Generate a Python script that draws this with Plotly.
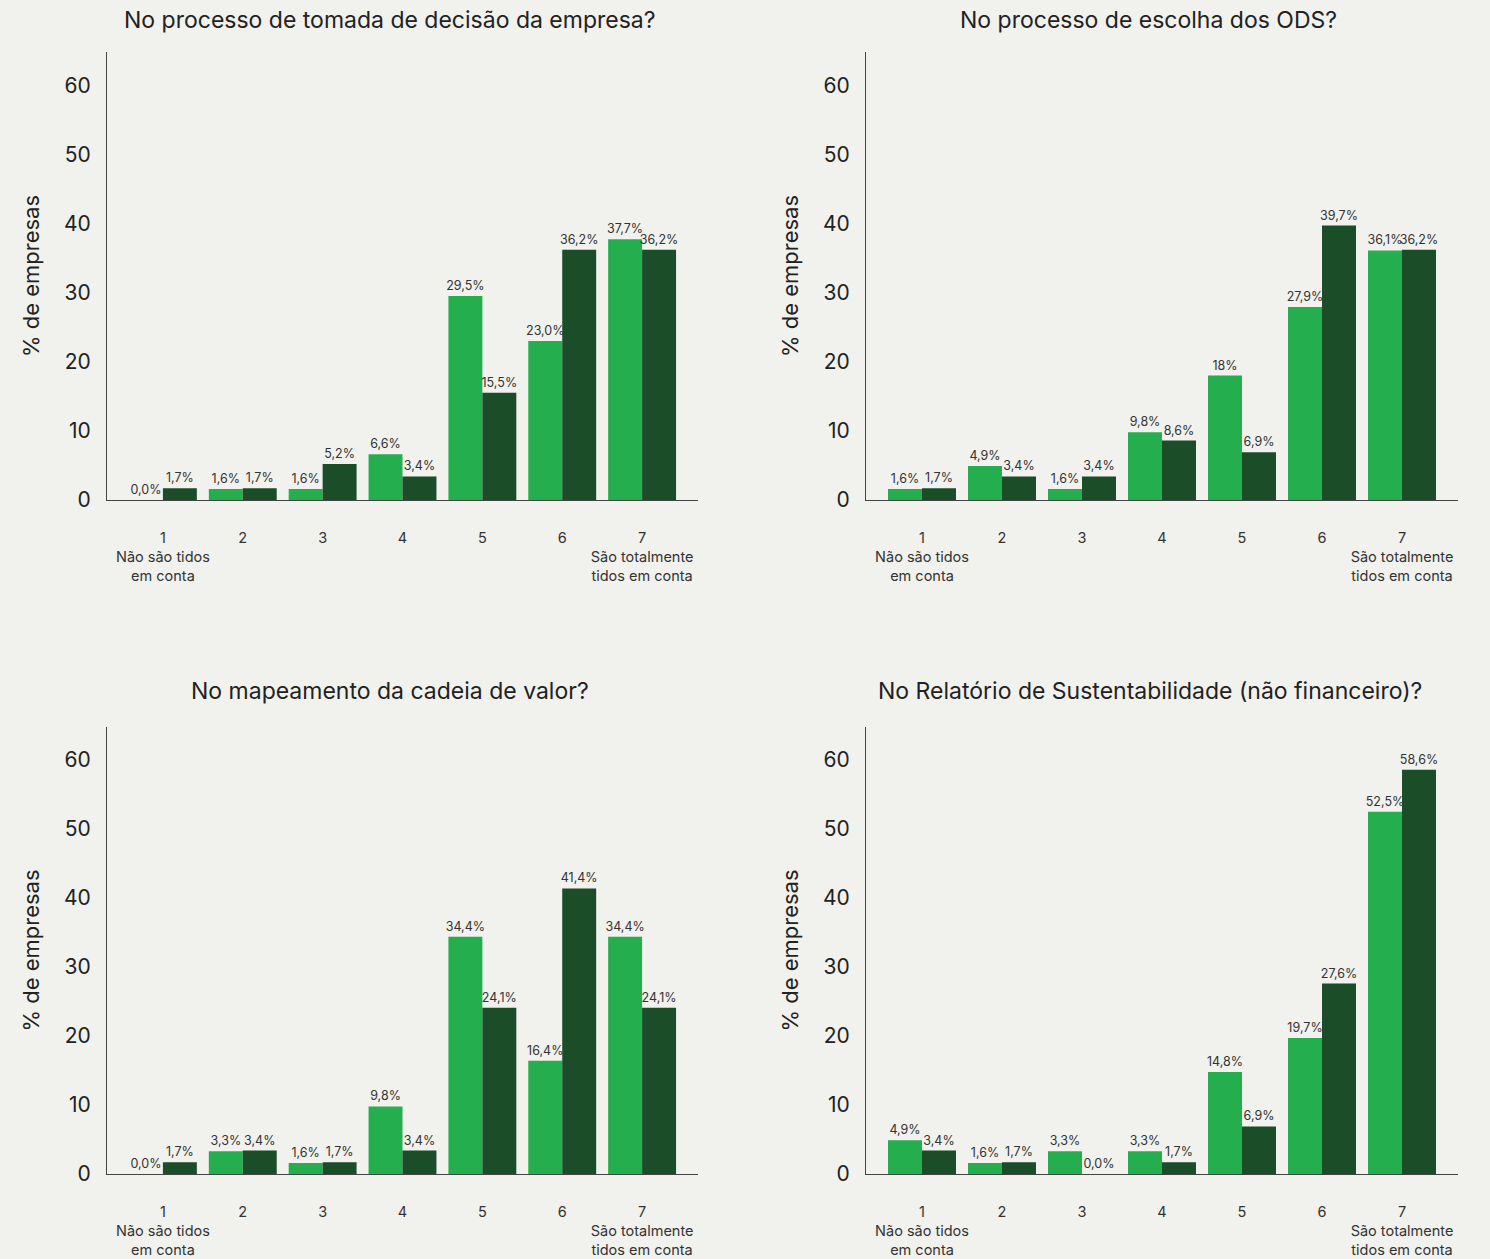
import plotly.graph_objects as go
from plotly.subplots import make_subplots

categorias = [1, 2, 3, 4, 5, 6, 7]
tick_textos = ["1<br>Não são tidos<br>em conta", "2", "3", "4", "5", "6",
               "7<br>São totalmente<br>tidos em conta"]

titulos = [
    "No processo de tomada de decisão da empresa?",
    "No processo de escolha dos ODS?",
    "No mapeamento da cadeia de valor?",
    "No Relatório de Sustentabilidade (não financeiro)?",
]

# claro / escuro por painel
decisao_claro = [0.0, 1.6, 1.6, 6.6, 29.5, 23.0, 37.7]
decisao_escuro = [1.7, 1.7, 5.2, 3.4, 15.5, 36.2, 36.2]
ods_claro = [1.6, 4.9, 1.6, 9.8, 18, 27.9, 36.1]
ods_escuro = [1.7, 3.4, 3.4, 8.6, 6.9, 39.7, 36.2]
cadeia_claro = [0.0, 3.3, 1.6, 9.8, 34.4, 16.4, 34.4]
cadeia_escuro = [1.7, 3.4, 1.7, 3.4, 24.1, 41.4, 24.1]
relatorio_claro = [4.9, 1.6, 3.3, 3.3, 14.8, 19.7, 52.5]
relatorio_escuro = [3.4, 1.7, 0.0, 1.7, 6.9, 27.6, 58.6]

paineis = [
    (decisao_claro, decisao_escuro),
    (ods_claro, ods_escuro),
    (cadeia_claro, cadeia_escuro),
    (relatorio_claro, relatorio_escuro),
]

VERDE_CLARO = "#25AE4D"
VERDE_ESCURO = "#1B4D29"
FUNDO = "#F1F1ED"
FONTE = "Inter, 'Open Sans', sans-serif"


def rotulo(v):
    if v == 18:
        return "18%"
    return f"{v:.1f}".replace(".", ",") + "%"


fig = make_subplots(rows=2, cols=2)

for i, (claro, escuro) in enumerate(paineis):
    r, c = i // 2 + 1, i % 2 + 1
    for vals, cor in [(claro, VERDE_CLARO), (escuro, VERDE_ESCURO)]:
        fig.add_trace(go.Bar(
            x=categorias, y=vals, marker_color=cor, marker_line_width=0,
            text=[rotulo(v) for v in vals], textposition="outside",
            textangle=0, cliponaxis=False, constraintext="none",
            textfont=dict(size=12.5, color="#333333", family=FONTE),
            showlegend=False,
        ), row=r, col=c)

x_dom = [[107 / 1490, 698 / 1490], [866 / 1490, 1458 / 1490]]
y_dom = [[1 - 500 / 1259, 1 - 52 / 1259], [1 - 1174 / 1259, 1 - 727 / 1259]]

for i in range(4):
    lin, col = i // 2, i % 2
    sfx = "" if i == 0 else str(i + 1)
    fig.layout["xaxis" + sfx].update(
        domain=x_dom[col], range=[0.3, 7.7], tickvals=categorias, ticktext=tick_textos,
        showgrid=False, zeroline=False, showline=True, linecolor="#444444", linewidth=1,
        ticks="", ticklabelstandoff=25, tickfont=dict(size=14.5, color="#333333", family=FONTE),
        automargin=False,
    )
    fig.layout["yaxis" + sfx].update(
        domain=y_dom[lin], range=[0, 64.8], tickvals=[0, 10, 20, 30, 40, 50, 60],
        showgrid=False, zeroline=False, showline=True, linecolor="#444444", linewidth=1,
        ticks="", ticklabelstandoff=11, tickfont=dict(size=21, color="#222222", family=FONTE),
        title=dict(text="% de empresas", standoff=18, font=dict(size=22, color="#222222", family=FONTE)),
        automargin=False,
    )

titulo_pos = [(390, 20), (1148, 20), (390, 691), (1150, 691)]
for t, (px_x, px_y) in zip(titulos, titulo_pos):
    fig.add_annotation(text=t, x=px_x / 1490, y=1 - px_y / 1259, xref="paper", yref="paper",
                       showarrow=False, xanchor="center", yanchor="middle",
                       font=dict(size=23, color="#222222", family=FONTE))

fig.update_layout(
    width=1490, height=1259,
    margin=dict(l=0, r=0, t=0, b=0),
    paper_bgcolor=FUNDO, plot_bgcolor=FUNDO,
    barmode="group", bargap=0.15, bargroupgap=0,
    font=dict(family=FONTE, color="#222222"),
)

fig.write_html("out.html", config={"displayModeBar": False},
               post_script="document.body.style.margin='0';")
